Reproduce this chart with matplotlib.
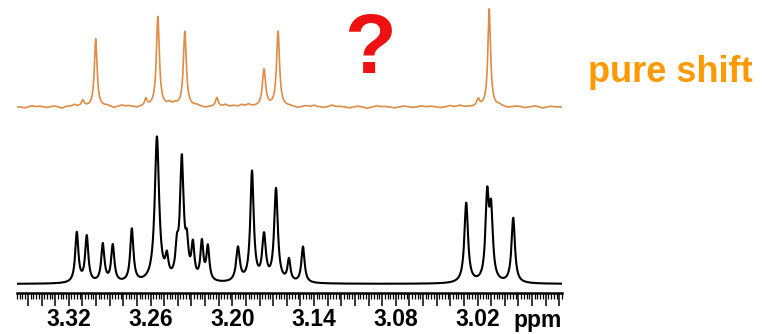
import numpy as np
import matplotlib.pyplot as plt
from matplotlib.ticker import MultipleLocator, FuncFormatter

plt.rcParams['font.family'] = ['Liberation Sans', 'DejaVu Sans']

# conventional 1H spectrum: peak positions (ppm), heights, half widths
h1_ppm = [3.3141, 3.3068, 3.2950, 3.2877, 3.2737, 3.2553, 3.2480, 3.2406,
          3.2370, 3.2333, 3.2289, 3.2223, 3.2179, 3.1958, 3.1855, 3.1767,
          3.1679, 3.1584, 3.1481, 3.0283, 3.0129, 3.0100, 2.9938]
h1_height = [50, 46, 38, 37, 53, 145, 20, 26, 120, 30, 34, 38, 34, 34, 110,
             45, 93, 22, 36, 80, 82, 66, 65]
h1_width = [0.0014, 0.0014, 0.0014, 0.0014, 0.0014, 0.0019, 0.0013, 0.0013,
            0.0016, 0.0013, 0.0013, 0.0013, 0.0013, 0.0016, 0.0015, 0.0016,
            0.0016, 0.0013, 0.0014, 0.0016, 0.0015, 0.0015, 0.0015]

# pure shift spectrum: singlets plus small baseline bumps
ps_ppm = [3.3097, 3.3002, 3.2634, 3.2546, 3.2348, 3.2113, 3.1767, 3.1664,
          3.0195, 3.0114]
ps_height = [6, 68, 7, 90, 75, 9, 37, 75, 7, 98]
ps_width = [0.0012, 0.0012, 0.0011, 0.0013, 0.0013, 0.0012, 0.0014, 0.0013,
            0.0012, 0.0012]
ps_noise_ppm = [3.352, 3.347, 3.341, 3.336, 3.331, 3.325, 3.321, 3.316,
                3.292, 3.287, 3.281, 3.276, 3.270, 3.246, 3.242, 3.226,
                3.220, 3.205, 3.199, 3.193, 3.188, 3.158, 3.152, 3.146,
                3.140, 3.133, 3.127, 3.121, 3.114, 3.108, 3.101, 3.094,
                3.088, 3.081, 3.074, 3.067, 3.061, 3.054, 3.047, 3.040,
                3.033, 3.004, 2.998, 2.991, 2.985, 2.978, 2.972, 2.966]
ps_noise = [-1.0, 1.2, 0.8, -0.8, 1.0, -1.5, 0.6, 2.0,
            1.0, -1.2, 1.5, 0.8, -1.0, 3.0, 2.5, 1.2,
            -1.0, 2.0, 1.0, 1.8, 2.2, 0.5, -1.2, 1.0,
            1.5, -0.8, 1.8, 0.6, -1.0, 0.8, -1.5, 1.2,
            0.5, -1.0, 0.9, -0.6, 1.0, 0.7, -0.9, 1.2,
            1.5, 1.5, -1.0, 0.8, -0.8, 1.0, -1.2, 0.8]

ppm_left, ppm_right = 3.358, 2.958
ps_offset = 177

def lorentz(x, centers, heights, widths):
    y = np.zeros_like(x)
    for c, h, w in zip(centers, heights, widths):
        y += h * w ** 2 / ((x - c) ** 2 + w ** 2)
    return y

x = np.linspace(ppm_right, ppm_left, 4000)
h1 = lorentz(x, h1_ppm, h1_height, h1_width)
ps = lorentz(x, ps_ppm, ps_height, ps_width)
ps += lorentz(x, ps_noise_ppm, ps_noise, [0.0016] * len(ps_noise))

fig = plt.figure(figsize=(7.73, 3.34), dpi=100)
ax = fig.add_axes([17 / 773, 41 / 334, 545 / 773, 293 / 334])
ax.plot(x, h1, color='black', lw=1.5)
ax.plot(x, ps + ps_offset, color='#DE8C46', lw=1.2)

ax.set_xlim(ppm_left, ppm_right)
ax.set_ylim(-9, 284)
for s in ['top', 'left', 'right']:
    ax.spines[s].set_visible(False)
ax.spines['bottom'].set_linewidth(1.8)
ax.set_yticks([])

ax.xaxis.set_major_locator(MultipleLocator(0.01))
ax.xaxis.set_minor_locator(MultipleLocator(0.002))

def fmt(v, pos):
    k = round((3.32 - v) / 0.06, 4)
    if v < 3.0 or abs(k - round(k)) > 1e-3:
        return ''
    return '%.2f' % v

ax.xaxis.set_major_formatter(FuncFormatter(fmt))
ax.tick_params(axis='x', which='major', length=9, width=1.1, pad=2,
               labelsize=16.5)
ax.tick_params(axis='x', which='minor', length=4.5, width=0.9)
for lab in ax.get_xticklabels():
    lab.set_fontweight('bold')

fig.text(1.0 - 211 / 773, 1 - 327 / 334, 'ppm', fontsize=16.5,
         fontweight='bold', ha='right', va='baseline')
fig.text(370 / 773, 1 - 73 / 334, '?', fontsize=61, fontweight='bold',
         color='#EE1111', ha='center', va='baseline')
fig.text(670 / 773, 1 - 82 / 334, 'pure shift', fontsize=26,
         fontweight='bold', color='#FF9900', ha='center', va='baseline')

fig.savefig('out.png', dpi=100)
